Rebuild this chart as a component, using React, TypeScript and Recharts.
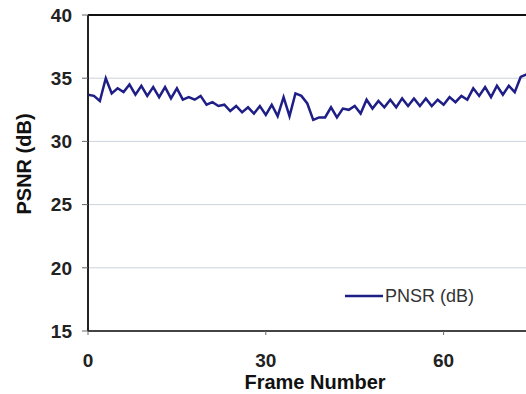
import React from "react";
import {
  LineChart,
  Line,
  XAxis,
  YAxis,
  CartesianGrid,
  ReferenceLine,
  Legend,
} from "recharts";

// PSNR per frame
const psnr = [
  33.7, 33.6, 33.2, 35.0, 33.8, 34.2, 33.9, 34.5, 33.7, 34.4,
  33.6, 34.3, 33.5, 34.3, 33.4, 34.2, 33.3, 33.5, 33.3, 33.6,
  32.9, 33.1, 32.8, 32.9, 32.4, 32.8, 32.3, 32.7, 32.2, 32.8,
  32.1, 32.9, 32.0, 33.5, 32.0, 33.8, 33.6, 33.0, 31.7, 31.9,
  31.9, 32.7, 31.9, 32.6, 32.5, 32.8, 32.2, 33.3, 32.6, 33.2,
  32.7, 33.3, 32.7, 33.4, 32.8, 33.4, 32.8, 33.4, 32.8, 33.3,
  32.9, 33.5, 33.1, 33.6, 33.3, 34.2, 33.6, 34.3, 33.5, 34.4,
  33.7, 34.4, 33.9, 35.1, 35.3,
];
const xTicks = [0, 30, 60];
const yTicks = [15, 20, 25, 30, 35, 40];

const data = psnr.map((v, i) => ({ frame: i, psnr: v }));

const FONT = "'Liberation Sans', Arial, sans-serif";
const LINE = "#1e1e86";

export default function App() {
  return (
    <div style={{ width: 526, height: 394, overflow: "hidden", background: "#fff" }}>
      <style>{`body{margin:0}`}</style>
      <LineChart
        width={526}
        height={394}
        data={data}
        margin={{ top: 15, right: 0, left: 0, bottom: 0 }}
      >
        <CartesianGrid vertical={false} stroke="#cbd3dc" strokeWidth={1} />
        <XAxis
          dataKey="frame"
          type="number"
          domain={[0, 73.9]}
          allowDataOverflow
          ticks={xTicks}
          height={63}
          tickSize={4}
          tickMargin={19}
          axisLine={{ stroke: "#444", strokeWidth: 2 }}
          tickLine={{ stroke: "#666" }}
          tick={{ fill: "#222", fontSize: 19, fontWeight: 700, fontFamily: FONT }}
          label={{
            content: () => (
              <text
                x={315}
                y={382}
                textAnchor="middle"
                dominantBaseline="central"
                fill="#111"
                fontSize={20}
                fontWeight={700}
                fontFamily={FONT}
              >
                Frame Number
              </text>
            ),
          }}
        />
        <YAxis
          type="number"
          domain={[15, 40]}
          ticks={yTicks}
          width={88}
          tickSize={6}
          tickMargin={10}
          axisLine={{ stroke: "#222", strokeWidth: 2 }}
          tickLine={{ stroke: "#666" }}
          tick={{ fill: "#222", fontSize: 19, fontWeight: 700, fontFamily: FONT }}
          label={{
            content: () => (
              <text
                x={24}
                y={164}
                transform="rotate(-90 24 164)"
                textAnchor="middle"
                dominantBaseline="central"
                fill="#111"
                fontSize={20}
                fontWeight={700}
                fontFamily={FONT}
              >
                PSNR (dB)
              </text>
            ),
          }}
        />
        <ReferenceLine y={40} stroke="#111" strokeWidth={2} />
        <Legend
          layout="vertical"
          align="center"
          verticalAlign="middle"
          wrapperStyle={{ position: "absolute", left: 345, top: 286, width: "auto" }}
          content={() => (
            <div style={{ display: "flex", alignItems: "center", lineHeight: "20px" }}>
              <svg width={38} height={4} style={{ display: "block" }}>
                <line x1={0} y1={2} x2={38} y2={2} stroke={LINE} strokeWidth={2.5} />
              </svg>
              <span style={{ marginLeft: 2, fontSize: 18, color: "#333", fontFamily: FONT }}>
                PNSR (dB)
              </span>
            </div>
          )}
        />
        <Line
          type="linear"
          dataKey="psnr"
          name="PNSR (dB)"
          stroke={LINE}
          strokeWidth={2.5}
          dot={false}
          isAnimationActive={false}
        />
      </LineChart>
    </div>
  );
}
